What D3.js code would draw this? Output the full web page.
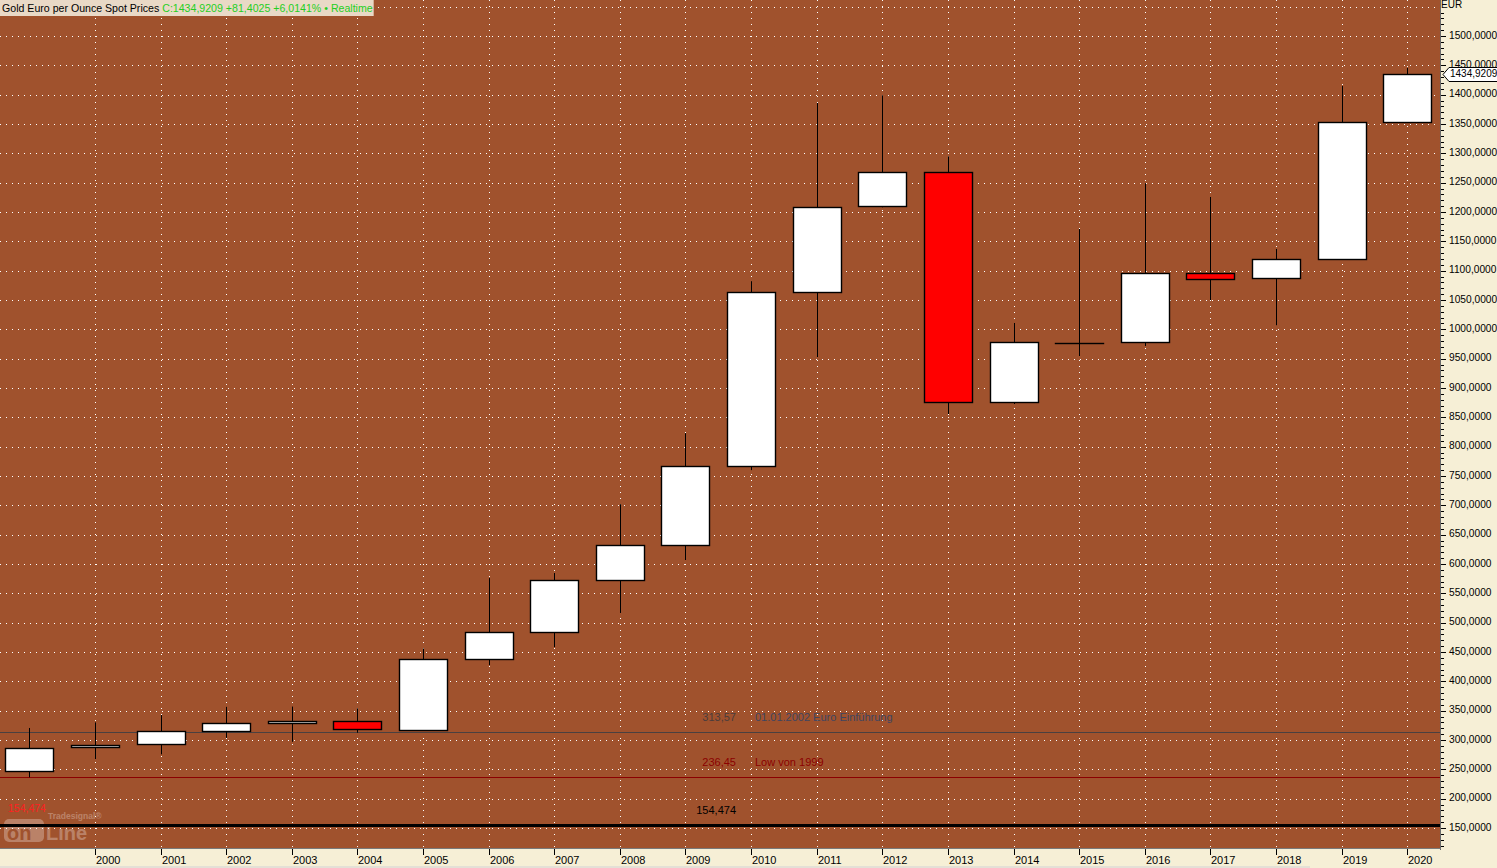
<!DOCTYPE html>
<html>
<head>
<meta charset="utf-8">
<script src="https://cdn.jsdelivr.net/npm/d3@7"></script>
<style>
  html, body { margin: 0; padding: 0; background: #f6efd6; overflow: hidden; }
  svg { display: block; }
  text { font-family: "Liberation Sans", Arial, sans-serif; }
</style>
</head>
<body>
<svg id="chart" width="1497" height="868"></svg>
<script>
// ---- Data (yearly candles, EUR per ounce) ----
const years  = [1999, 2000, 2001, 2002, 2003, 2004, 2005, 2006, 2007, 2008, 2009, 2010, 2011, 2012, 2013, 2014, 2015, 2016, 2017, 2018, 2019, 2020];
const opens  = [248, 287.5, 292.7, 314.8, 328.4, 332.4, 317.6, 438, 484, 572.7, 632, 767, 1063.6, 1210, 1268, 876, 976.6, 978, 1096.5, 1087.5, 1120, 1353.52];
const highs  = [320.5, 330, 342.6, 356.5, 357, 354, 456, 576, 584.6, 702, 823, 1082, 1385.8, 1399, 1295, 1010.8, 1171, 1249, 1225.6, 1137, 1414.7, 1445.5];
const lows   = [236.45, 267.6, 275.6, 303.6, 297, 312.4, 317, 427.8, 458.5, 516.5, 606.8, 760, 952.8, 1208, 855.7, 872.7, 954.5, 971.6, 1050, 1007, 1120, 1353.52];
const closes = [287, 291, 314.8, 328.4, 331.8, 319.3, 438, 484, 572.7, 632, 767, 1063.6, 1208.5, 1268, 876, 978, 977, 1096, 1087, 1120, 1353.4, 1434.9209];

const yTickValues = [150, 200, 250, 300, 350, 400, 450, 500, 550, 600, 650, 700, 750, 800, 850, 900, 950, 1000, 1050, 1100, 1150, 1200, 1250, 1300, 1350, 1400, 1450, 1500];
const xTickYears  = [2000, 2001, 2002, 2003, 2004, 2005, 2006, 2007, 2008, 2009, 2010, 2011, 2012, 2013, 2014, 2015, 2016, 2017, 2018, 2019, 2020];

// Horizontal reference lines
const refValues = [313.57, 236.45, 154.474];
const refLabels = ["313,57", "236,45", "154,474"];
const refNotes  = ["01.01.2002 Euro Einführung", "Low von 1999", ""];

const titleName  = "Gold Euro per Ounce Spot Prices";
const titleQuote = "C:1434,9209 +81,4025 +6,0141% \u2022 Realtime";
const lastPrice  = 1434.9209;

// ---- Layout ----
const W = 1497, H = 868;
const plotL = 0, plotR = 1440, plotT = 0, plotB = 848;

const svg = d3.select("#chart");

const x = d3.scaleBand().domain(years).range([-3.4, 1440]).padding(0);
const y = d3.scaleLinear().domain([150, 1500]).range([828, 36]);
const cx = d => x(d) + x.bandwidth() / 2;
const fmt = v => d3.format(".4f")(v).replace(".", ",");

// backgrounds
svg.append("rect").attr("x", 0).attr("y", 0).attr("width", W).attr("height", H).attr("fill", "#f6efd6");
svg.append("rect").attr("x", plotL).attr("y", plotT).attr("width", plotR - plotL).attr("height", plotB - plotT).attr("fill", "#a0522d");
svg.append("rect").attr("x", 0).attr("y", 866).attr("width", 1310).attr("height", 2).attr("fill", "#e4e0d6");

const plot = svg.append("g");
const clipId = "plotclip";
svg.append("defs").append("clipPath").attr("id", clipId)
  .append("rect").attr("x", plotL).attr("y", plotT).attr("width", plotR - plotL).attr("height", plotB - plotT);
plot.attr("clip-path", `url(#${clipId})`);

// grid
const gridVals = d3.range(150, 1600, 50);
plot.selectAll("line.hgrid").data(gridVals).enter().append("line")
  .attr("x1", plotL).attr("x2", plotR)
  .attr("y1", d => Math.round(y(d)) + 0.5).attr("y2", d => Math.round(y(d)) + 0.5)
  .attr("stroke", "#ffffff").attr("stroke-width", 1).attr("stroke-dasharray", "1,5");
plot.selectAll("line.vgrid").data(xTickYears).enter().append("line")
  .attr("x1", d => Math.round(cx(d)) + 0.5).attr("x2", d => Math.round(cx(d)) + 0.5)
  .attr("y1", plotT).attr("y2", plotB)
  .attr("stroke", "#ffffff").attr("stroke-width", 1).attr("stroke-dasharray", "1,5");

// watermark logo
const logo = plot.append("g").attr("opacity", 0.28);
logo.append("rect").attr("x", 4).attr("y", 819).attr("width", 40).attr("height", 23).attr("rx", 5)
  .attr("fill", "#ffffff");
logo.append("text").attr("x", 7).attr("y", 840).attr("font-size", 20).attr("font-weight", "bold")
  .attr("fill", "#a0522d").attr("font-family", "DejaVu Sans").text("on");
logo.append("text").attr("x", 46).attr("y", 840).attr("font-size", 20).attr("font-weight", "bold")
  .attr("fill", "#ffffff").attr("font-family", "DejaVu Sans").text("Line");
logo.append("text").attr("x", 48).attr("y", 819).attr("font-size", 8.5).attr("font-weight", "bold")
  .attr("fill", "#ffffff").text("Tradesignal\u00AE");

// reference lines
const refColors = ["#4a4040", "#8b0000", "#000000"];
const refWidths = [1, 1, 3];
plot.selectAll("line.ref").data(refValues).enter().append("line")
  .attr("x1", plotL).attr("x2", plotR)
  .attr("y1", (d, i) => refWidths[i] === 1 ? Math.round(y(d)) + 0.5 : y(d))
  .attr("y2", (d, i) => refWidths[i] === 1 ? Math.round(y(d)) + 0.5 : y(d))
  .attr("stroke", (d, i) => refColors[i]).attr("stroke-width", (d, i) => refWidths[i]);

// ref labels
const labelColors = ["#4a3c3c", "#8b0000", "#000000"];
const noteColors  = ["#3e4560", "#8b0000", "#000000"];
refValues.forEach((v, i) => {
  const ly = y(v) - 14;
  plot.append("text").attr("x", 736).attr("y", ly).attr("text-anchor", "end")
    .attr("dominant-baseline", "middle").attr("font-size", 11).attr("fill", labelColors[i]).text(refLabels[i]);
  if (refNotes[i]) {
    plot.append("text").attr("x", 755).attr("y", ly)
      .attr("dominant-baseline", "middle").attr("font-size", 11).attr("fill", noteColors[i]).text(refNotes[i]);
  }
});
// red value at left edge
plot.append("text").attr("x", 8).attr("y", y(refValues[2]) - 16).attr("dominant-baseline", "middle")
  .attr("font-size", 10.5).attr("fill", "#ff2020").text(refLabels[2]);

// candles
const bw = 48;
const candles = plot.selectAll("g.candle").data(years).enter().append("g");
candles.append("line")
  .attr("x1", d => Math.round(cx(d)) + 0.5).attr("x2", d => Math.round(cx(d)) + 0.5)
  .attr("y1", (d, i) => y(highs[i])).attr("y2", (d, i) => y(lows[i]))
  .attr("stroke", "#000").attr("stroke-width", 1);
candles.append("rect")
  .attr("x", d => Math.round(cx(d) - bw / 2) + 0.5)
  .attr("y", (d, i) => Math.round(y(Math.max(opens[i], closes[i]))) + 0.5)
  .attr("width", bw)
  .attr("height", (d, i) => Math.max(0.01, Math.round(Math.abs(y(opens[i]) - y(closes[i])))))
  .attr("fill", (d, i) => closes[i] >= opens[i] ? "#ffffff" : "#ff0000")
  .attr("stroke", "#000").attr("stroke-width", 1.4);

// right axis
const axisG = svg.append("g");
axisG.append("line").attr("x1", 1440.5).attr("x2", 1440.5).attr("y1", 0).attr("y2", 850)
  .attr("stroke", "#6a6a6a");
const minor = d3.range(120, 1560, 10).filter(v => v % 50 !== 0);
axisG.selectAll("line.minor").data(minor).enter().append("line")
  .attr("x1", 1441).attr("x2", 1444)
  .attr("y1", d => Math.round(y(d)) + 0.5).attr("y2", d => Math.round(y(d)) + 0.5)
  .attr("stroke", "#000");
axisG.selectAll("line.major").data(yTickValues).enter().append("line")
  .attr("x1", 1441).attr("x2", 1446)
  .attr("y1", d => Math.round(y(d)) + 0.5).attr("y2", d => Math.round(y(d)) + 0.5)
  .attr("stroke", "#000");
axisG.selectAll("text.ylab").data(yTickValues).enter().append("text")
  .attr("x", 1449).attr("y", d => y(d)).attr("dominant-baseline", "middle")
  .attr("font-size", 10.2).attr("fill", "#000").text(d => fmt(d));
axisG.append("text").attr("x", 1441).attr("y", 5).attr("dominant-baseline", "middle")
  .attr("font-size", 10).attr("fill", "#000").text("EUR");

// price tag
const py = Math.round(y(lastPrice)) + 0.5;
axisG.append("path")
  .attr("d", `M1443,${py} L1449,${py - 7} L1498,${py - 7} L1498,${py + 7} L1449,${py + 7} Z`)
  .attr("fill", "#ffffff").attr("stroke", "#000").attr("stroke-width", 1);
axisG.append("text").attr("x", 1450).attr("y", py).attr("dominant-baseline", "middle")
  .attr("font-size", 10).attr("fill", "#000").text(fmt(lastPrice));

// bottom axis
const xa = svg.append("g");
xa.append("line").attr("x1", 0).attr("x2", 1441).attr("y1", 848.5).attr("y2", 848.5).attr("stroke", "#7a7a7a");
xa.selectAll("line.xt").data(xTickYears).enter().append("line")
  .attr("x1", d => Math.round(cx(d)) + 0.5).attr("x2", d => Math.round(cx(d)) + 0.5)
  .attr("y1", 849).attr("y2", 855).attr("stroke", "#000");
xa.selectAll("text.xl").data(xTickYears).enter().append("text")
  .attr("x", d => Math.round(cx(d)) + 1).attr("y", 864)
  .attr("font-size", 11).attr("fill", "#000").text(d => d);

// title box
const tg = svg.append("g");
const tbg = tg.append("rect").attr("x", 0).attr("y", 0).attr("height", 16).attr("fill", "#e9d9c6");
const t1 = tg.append("text").attr("x", 2).attr("y", 12).attr("font-size", 10.6).attr("fill", "#000").text(titleName);
const w1 = t1.node().getComputedTextLength();
const t2 = tg.append("text").attr("x", 2 + w1 + 3).attr("y", 12).attr("font-size", 10.6).attr("fill", "#1fcf1f").text(titleQuote);
tbg.attr("width", 2 + w1 + 3 + t2.node().getComputedTextLength() + 1);
</script>
</body>
</html>
